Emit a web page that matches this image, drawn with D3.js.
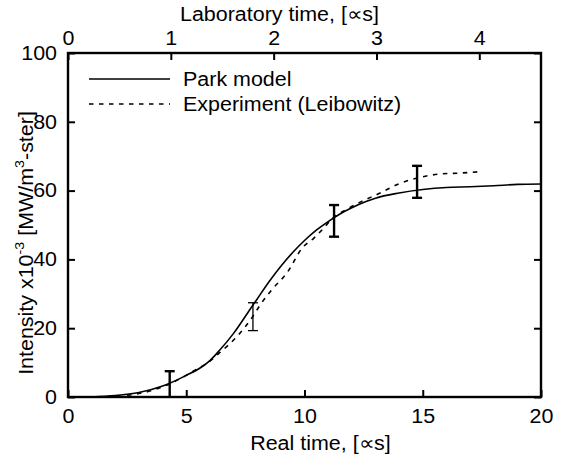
<!DOCTYPE html>
<html>
<head>
<meta charset="utf-8">
<script src="https://cdn.jsdelivr.net/npm/d3@7/dist/d3.min.js"></script>
<style>
html,body{margin:0;padding:0;background:#fff;}
svg text{font-family:Arial,"Liberation Sans",sans-serif;fill:#000;}
</style>
</head>
<body>
<svg id="chart" width="561" height="460"></svg>
<script>
// ---- data ----
const modelX = [1.0, 2, 3, 4, 4.3, 5, 5.6, 6, 6.4, 7, 7.7, 8, 8.5, 9, 9.5, 10, 10.5, 11, 11.5, 12, 12.6, 13, 14, 15, 16, 17, 18, 19, 20];
const modelY = [0, 0.4, 1.3, 3.2, 4.0, 6.3, 8.5, 10.6, 13.5, 18.5, 25.5, 28.5, 33.5, 38, 42, 45.5, 48.5, 51, 53.2, 55, 56.8, 57.8, 59.3, 60.3, 60.9, 61.1, 61.4, 61.8, 61.9];
const expX = [2.5, 3, 3.5, 4.3, 5, 5.5, 5.9, 6.4, 6.8, 7.2, 7.8, 8.1, 8.6, 9.3, 9.9, 10.4, 10.8, 11.2, 11.8, 12.4, 13.2, 14, 14.8, 15.7, 16.6, 17.4];
const expY = [0.5, 1.0, 1.8, 3.8, 6.3, 8.3, 9.9, 12.8, 15.2, 18, 23.3, 26.5, 31, 36.5, 43.3, 46.2, 49, 52, 54.6, 56.8, 59.3, 62, 63.7, 64.8, 65.1, 65.5];
const errX = [4.3, 7.82, 11.25, 14.76];
const errLo = [0, 19.3, 46.6, 57.9];
const errHi = [7.5, 27.4, 55.8, 67.2];
const xTicks = [0, 5, 10, 15, 20];
const yTicks = [0, 20, 40, 60, 80, 100];
const topTicks = [0, 1, 2, 3, 4];
const legendLabels = ["Park model", "Experiment (Leibowitz)"];

// ---- layout ----
const L = 68, R = 541, T = 53, B = 397;
const svg = d3.select("#chart");
const x = d3.scaleLinear().domain([0, 20]).range([L, R]);
const xTop = d3.scaleLinear().domain([0, 4.6]).range([L, R]);
const y = d3.scaleLinear().domain([0, 100]).range([B, T]);
const FS = 19.5;
const SX = 1.1; // horizontal stretch of the reference's text
function stretch(sel) {
  sel.each(function () {
    const w = this.getComputedTextLength();
    this.setAttribute("textLength", w * SX);
    this.setAttribute("lengthAdjust", "spacingAndGlyphs");
  });
}

// curves
const line = d3.line().x(d => x(d[0])).y(d => y(d[1])).curve(d3.curveMonotoneX);
svg.append("path").datum(modelX.map((v, i) => [v, modelY[i]]))
  .attr("d", line).attr("fill", "none").attr("stroke", "#000").attr("stroke-width", 1.6);
svg.append("path").datum(expX.map((v, i) => [v, expY[i]]))
  .attr("d", line).attr("fill", "none").attr("stroke", "#000").attr("stroke-width", 1.6)
  .attr("stroke-dasharray", "4.5,5.5");

// error bars
errX.forEach((ex, i) => {
  const w = i === 1 ? 1.3 : 2.4;
  const g = svg.append("g").attr("stroke", "#000").attr("stroke-width", w);
  g.append("line").attr("x1", x(ex)).attr("x2", x(ex)).attr("y1", y(errLo[i])).attr("y2", y(errHi[i]));
  g.append("line").attr("x1", x(ex) - 5).attr("x2", x(ex) + 5).attr("y1", y(errHi[i])).attr("y2", y(errHi[i]));
  if (errLo[i] > 0)
    g.append("line").attr("x1", x(ex) - 5).attr("x2", x(ex) + 5).attr("y1", y(errLo[i])).attr("y2", y(errLo[i]));
});

// axes (ticks inward)
const tl = 7;
const axB = svg.append("g").attr("transform", `translate(0,${B})`)
  .call(d3.axisBottom(x).tickValues(xTicks).tickSize(-tl).tickPadding(tl + 5).tickFormat(d3.format("d")));
const axL = svg.append("g").attr("transform", `translate(${L},0)`)
  .call(d3.axisLeft(y).tickValues(yTicks).tickSize(-tl).tickPadding(tl + 4).tickFormat(d3.format("d")));
const axR = svg.append("g").attr("transform", `translate(${R},0)`)
  .call(d3.axisRight(y).tickValues(yTicks).tickSize(-tl).tickFormat(""));
const axT = svg.append("g").attr("transform", `translate(0,${T})`)
  .call(d3.axisTop(xTop).tickValues(topTicks).tickSize(-tl).tickPadding(tl + 1).tickFormat(d3.format("d")));
[axB, axL, axR, axT].forEach(g => {
  g.select(".domain").remove();
  g.selectAll(".tick line").attr("stroke", "#000").attr("stroke-width", 2);
  g.selectAll(".tick text").attr("font-size", FS).attr("font-family", "Arial, 'Liberation Sans', sans-serif");
  stretch(g.selectAll(".tick text"));
});
// frame
svg.append("rect").attr("x", L).attr("y", T).attr("width", R - L).attr("height", B - T)
  .attr("fill", "none").attr("stroke", "#000").attr("stroke-width", 2.4);

// titles
stretch(svg.append("text").attr("x", (L + R) / 2 + 16).attr("y", 450).attr("text-anchor", "middle")
  .attr("font-size", FS).text("Real time, [\u221Ds]"));
stretch(svg.append("text").attr("x", (L + R) / 2 - 25).attr("y", 21).attr("text-anchor", "middle")
  .attr("font-size", FS).text("Laboratory time, [\u221Ds]"));
const yl = svg.append("text").attr("transform", `translate(33,${243}) rotate(-90) scale(${SX},1)`)
  .attr("text-anchor", "middle").attr("font-size", FS);
yl.append("tspan").text("Intensity x10");
yl.append("tspan").attr("font-size", 13).attr("dy", -9).text("-3");
yl.append("tspan").attr("dy", 9).text(" [MW/m");
yl.append("tspan").attr("font-size", 13).attr("dy", -9).text("3");
yl.append("tspan").attr("dy", 9).text("-ster]");

// legend
const lg = svg.append("g");
const ly = [79, 104];
legendLabels.forEach((lab, i) => {
  const l = lg.append("line").attr("x1", 89).attr("x2", 170).attr("y1", ly[i]).attr("y2", ly[i])
    .attr("stroke", "#000").attr("stroke-width", 1.6);
  if (i === 1) l.attr("stroke-dasharray", "4.5,5.5");
  stretch(lg.append("text").attr("x", 183).attr("y", ly[i] + 7).attr("font-size", FS).text(lab));
});
</script>
</body>
</html>
